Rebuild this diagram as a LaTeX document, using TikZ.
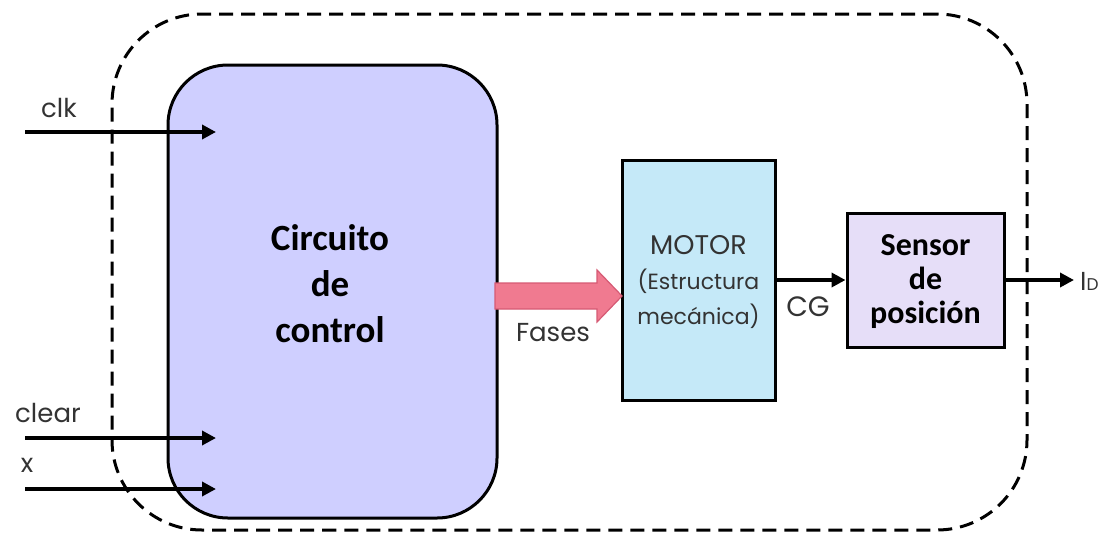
\documentclass[tikz,border=0pt]{standalone}
\usepackage{fontspec}
\setmainfont{Poppins}
\newfontfamily\carl{Carlito}
\usetikzlibrary{arrows.meta}
\definecolor{ctrlfill}{HTML}{CFCFFF}
\definecolor{motorfill}{HTML}{C5E9F8}
\definecolor{sensfill}{HTML}{E6DEF8}
\definecolor{pinkfill}{HTML}{F07A90}
\definecolor{pinkdraw}{HTML}{D65A74}
\definecolor{txtgray}{HTML}{333333}
\tikzset{
  blockbox/.style={draw=black, line width=3pt, inner sep=0pt},
  sig/.style={line width=3.5pt, -{Triangle[length=14pt,width=14pt]}},
  lbl/.style={font=\fontsize{26}{30}\selectfont, text=txtgray, inner sep=0pt},
}
\begin{document}
\begin{tikzpicture}[x=1pt,y=-1pt]
\useasboundingbox (0,0) rectangle (1102,533);
% outer dashed boundary
\node[draw=black, line width=3pt, dash pattern=on 14pt off 8pt, rounded corners=90pt,
      minimum width=915pt, minimum height=516pt, inner sep=0pt] (outer) at (569.5,272) {};
% control block
\node[blockbox, fill=ctrlfill, rounded corners=60pt, minimum width=329pt, minimum height=453pt] (ctrl) at (332.5,291.5) {};
\node[align=center, font=\carl\bfseries\fontsize{37}{46}\selectfont, inner sep=0pt] (ctrltxt) at (330,284) {Circuito\\de\\control};
% motor
\node[blockbox, fill=motorfill, minimum width=153pt, minimum height=240pt] (motor) at (698.5,280) {};
\node[align=center, font=\fontsize{22}{35}\selectfont, text=txtgray, inner sep=0pt] (motortxt) at (698.5,282) {{\fontsize{27}{35}\selectfont MOTOR}\\(Estructura\\mecánica)};
% sensor
\node[blockbox, fill=sensfill, minimum width=157pt, minimum height=134pt] (sensor) at (925.5,280) {};
\node[align=center, font=\carl\bfseries\fontsize{32}{34}\selectfont, inner sep=0pt] (senstxt) at (925.5,282) {Sensor\\de\\posición};
% fat arrow (Fases)
\draw[fill=pinkfill, draw=pinkdraw, line width=1.2pt]
  (495,283) -- (597,283) -- (597,270) -- (622,296) -- (597,322) -- (597,309) -- (495,309) -- cycle;
\node[lbl] (fases) at (553,333) {Fases};
% inputs
\coordinate (clkin) at (25,132);
\coordinate (clkend) at (216,132);
\coordinate (clrin) at (25,438);
\coordinate (clrend) at (216,438);
\coordinate (xin) at (25,489);
\coordinate (xend) at (216,489);
\draw[sig] (clkin) -- (clkend);
\draw[sig] (clrin) -- (clrend);
\draw[sig] (xin) -- (xend);
\node[lbl] (clk) at (59,108) {clk};
\node[lbl] (clear) at (48,413) {clear};
\node[lbl] (x) at (27,465) {x};
% CG
\draw[sig] (motor.east) -- (sensor.west);
\node[lbl, font=\fontsize{28}{30}\selectfont] (cg) at (808,307) {CG};
% output
\coordinate (idend) at (1074,280);
\draw[sig] (sensor.east) -- (idend);
\node[lbl, anchor=west] (id) at (1080,281) {I{\fontsize{17}{18}\selectfont D}};
\end{tikzpicture}
\end{document}
